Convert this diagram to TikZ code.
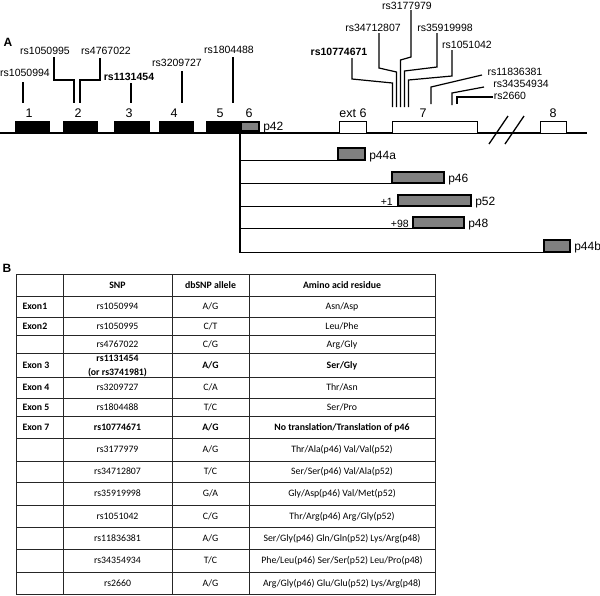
\documentclass[tikz,border=0pt]{standalone}
\usepackage{fontspec}
\setmainfont{Liberation Sans}
\newfontfamily\tabfont{Carlito}
\usetikzlibrary{positioning}

\begin{document}
\begin{tikzpicture}[x = 1pt, y = -1pt, line width = 1.3pt,
	exon/.style = {draw, fill = black, line width = 1pt, minimum height = 12pt, inner sep = 0pt},
	whitebox/.style = {exon, fill = white},
	iso/.style = {draw, fill = black!50, line width = 1.2pt, minimum height = 11pt, inner sep = 0pt},
	num/.style = {font = \fontsize{12.5}{14}\selectfont, inner sep = 0pt},
	snp/.style = {font = \fontsize{10.5}{12}\selectfont, inner sep = 0pt},
	snpb/.style = {font = \fontsize{10.5}{12}\selectfont\bfseries, inner sep = 0pt},
	pname/.style = {font = \fontsize{12}{14}\selectfont, inner sep = 0pt, anchor = base west},
	leader/.style = {line width = 1.2pt},
	panel/.style = {font = \fontsize{12}{14}\selectfont\bfseries, inner sep = 0pt},
	cell/.style = {font = \tabfont\fontsize{9.8}{12}\selectfont, inner sep = 0pt, anchor = base, yshift = -3.2pt},
	cellb/.style = {cell, font = \tabfont\fontsize{9.8}{12}\selectfont\bfseries},
	tabline/.style = {line width = 0.9pt, draw = black!85}]
	\useasboundingbox (0,0) rectangle (600,595);

	% panel A: gene
	\node[panel](A) at (8,42){A};
	\coordinate (gstart) at (0,133);
	\coordinate (gend) at (587,133);
	\draw (gstart) -- (gend);
	\draw (489,144) -- (508,116);
	\draw (505,144) -- (524,116);

	\node[exon, minimum width = 34pt](e1) at (32,127){};
	\node[exon, minimum width = 34pt](e2) at (80,127){};
	\node[exon, minimum width = 35pt](e3) at (131.5,127){};
	\node[exon, minimum width = 34pt](e4) at (176,127){};
	\node[exon, minimum width = 35pt](e5) at (223.5,127){};
	\node[iso, minimum width = 18pt, minimum height = 9pt](e6) at (250,126.5){};
	\node[whitebox, minimum width = 27pt](x6) at (352.5,127){};
	\node[whitebox, minimum width = 85pt](e7) at (434.5,127){};
	\node[whitebox, minimum width = 26pt](e8) at (553,127){};

	\node[num](n1) at (29,113.5){1};
	\node[num](n2) at (78,113.5){2};
	\node[num](n3) at (129,113.5){3};
	\node[num](n4) at (174,113.5){4};
	\node[num](n5) at (220,113.5){5};
	\node[num](n6) at (249,113.5){6};
	\node[num](nx6) at (353,113.5){ext 6};
	\node[num](n7) at (423,113.5){7};
	\node[num](n8) at (553,113.5){8};
	\node[pname](l42) at ([xshift = 3pt, yshift = 1pt]e6.south east){p42};

	% SNP labels
	\node[snp](s1) at (25,73){rs1050994};
	\node[snp](s2) at (45,51){rs1050995};
	\node[snp](s3) at (106,51){rs4767022};
	\node[snpb](s4) at (129,77){rs1131454};
	\node[snp](s5) at (177,63){rs3209727};
	\node[snp](s6) at (229,50){rs1804488};
	\node[snpb](s7) at (339,52){rs10774671};
	\node[snp](s8) at (373,28){rs34712807};
	\node[snp](s9) at (407,6){rs3177979};
	\node[snp](s10) at (445,28){rs35919998};
	\node[snp](s11) at (467,45){rs1051042};
	\node[snp](s12) at (515,72){rs11836381};
	\node[snp](s13) at (521,84){rs34354934};
	\node[snp](s14) at (510,96){rs2660};

	\coordinate (t1) at (23,82);     \coordinate (m1) at (23,103);
	\coordinate (t2) at (54,57);     \coordinate (m2) at (74,103);
	\coordinate (t3) at (100,58);    \coordinate (m3) at (80,103);
	\coordinate (t4) at (131,83);    \coordinate (m4) at (131,103);
	\coordinate (t5) at (182,71);    \coordinate (m5) at (182,103);
	\coordinate (t6) at (233,57);    \coordinate (m6) at (233,103);
	\coordinate (t7) at (352,58);    \coordinate (m7) at (392.5,107);
	\coordinate (t8) at (379,33);    \coordinate (m8) at (396.5,107);
	\coordinate (t9) at (411,10);    \coordinate (m9) at (400.5,107);
	\coordinate (t10) at (437,33);   \coordinate (m10) at (404.5,107);
	\coordinate (t11) at (452,50);   \coordinate (m11) at (408.5,107);
	\coordinate (t12) at (482,75);   \coordinate (m12) at (431,104);
	\coordinate (t13) at (484,87);   \coordinate (m13) at (452,105);
	\coordinate (t14) at (493,97);   \coordinate (m14) at (457,104);

	\draw[leader](t1) -- (m1);
	\draw[leader](t2) -- ++(0,23) -| (m2);
	\draw[leader](t3) -- ++(0,22) -| (m3);
	\draw[leader](t4) -- (m4);
	\draw[leader](t5) -- (m5);
	\draw[leader](t6) -- (m6);
	\draw[leader](t7) -- ++(0,21) -- ++(40.5,4) -- (m7);
	\draw[leader](t8) -- ++(0,35) -- ++(17.5,4) -- (m8);
	\draw[leader](t9) -- ++(0,47) -- ++(-10.5,3) -- (m9);
	\draw[leader](t10) -- ++(0,34) -- ++(-32.5,4) -- (m10);
	\draw[leader](t11) -- ++(0,26) -- ++(-43.5,4) -- (m11);
	\draw[leader](t12) -- ++(-51,12) -- (m12);
	\draw[leader](t13) -- ++(-32,6) -- (m13);
	\draw[leader](t14) -- ++(-36,0) -- (m14);

	% isoforms
	\coordinate (split) at (240,133);
	\node[iso, minimum width = 27pt, minimum height = 12pt](p44a) at (351.5,154){};
	\node[iso, minimum width = 52pt](p46) at (418,177.5){};
	\node[iso, minimum width = 73pt](p52) at (434.5,200.5){};
	\node[iso, minimum width = 51pt](p48) at (438.5,222.5){};
	\node[iso, minimum width = 26pt, minimum height = 12pt](p44b) at (557,246){};

	\draw (split) |- (p44a.south west);
	\draw (split) |- (p46.south west);
	\draw (split) |- (p52.south west);
	\draw (split) |- (p48.south west);
	\draw (split) |- (p44b.south west);

	\node[pname](l44a) at ([xshift = 3pt, yshift = 1pt]p44a.south east){p44a};
	\node[pname](l46) at ([xshift = 3pt, yshift = 1pt]p46.south east){p46};
	\node[pname](l52) at ([xshift = 3pt, yshift = 1pt]p52.south east){p52};
	\node[pname](l48) at ([xshift = 3pt, yshift = 1pt]p48.south east){p48};
	\node[pname](l44b) at ([xshift = 3pt, yshift = 2pt]p44b.south east){p44b};
	\node[pname, anchor = base east, font = \fontsize{10.5}{12}\selectfont](o52) at ([xshift = -4pt, yshift = 1pt]p52.south west){+1};
	\node[pname, anchor = base east, font = \fontsize{10.5}{12}\selectfont](o48) at ([xshift = -3pt, yshift = 1pt]p48.south west){+98};

	% panel B: table
	\node[panel](B) at (7,268){B};
	\draw[tabline] (16,274) rectangle (435,594);
	\draw[tabline] (63,274) -- (63,594);
	\draw[tabline] (172,274) -- (172,594);
	\draw[tabline] (249,274) -- (249,594);
	\foreach \y in {296,317,335,353,377,398,416,438,461,482,505,527,549,572}
		\draw[tabline] (16,\y) -- (435,\y);

	\node[cellb](hsnp) at (117.5,285){SNP};
	\node[cellb](hall) at (210.5,285){dbSNP allele};
	\node[cellb](haa) at (342,285){Amino acid residue};

	\node[cellb, anchor = base west](x1) at (22,306.5){Exon1};
	\node[cell](r1) at (117.5,306.5){rs1050994};
	\node[cell](a1) at (210.5,306.5){A/G};
	\node[cell](aa1) at (342,306.5){Asn/Asp};

	\node[cellb, anchor = base west](x2) at (22,326){Exon2};
	\node[cell](r2) at (117.5,326){rs1050995};
	\node[cell](a2) at (210.5,326){C/T};
	\node[cell](aa2) at (342,326){Leu/Phe};

	\node[cell](r3) at (117.5,344){rs4767022};
	\node[cell](a3) at (210.5,344){C/G};
	\node[cell](aa3) at (342,344){Arg/Gly};

	\node[cellb, anchor = base west](x3) at (22,365){Exon 3};
	\node[cellb](r4) at (117.5,358){rs1131454};
	\node[cellb](r4b) at (117.5,372){(or rs3741981)};
	\node[cellb](a4) at (210.5,365){A/G};
	\node[cellb](aa4) at (342,365){Ser/Gly};

	\node[cellb, anchor = base west](x4) at (22,387.5){Exon 4};
	\node[cell](r5) at (117.5,387.5){rs3209727};
	\node[cell](a5) at (210.5,387.5){C/A};
	\node[cell](aa5) at (342,387.5){Thr/Asn};

	\node[cellb, anchor = base west](x5) at (22,407){Exon 5};
	\node[cell](r6) at (117.5,407){rs1804488};
	\node[cell](a6) at (210.5,407){T/C};
	\node[cell](aa6) at (342,407){Ser/Pro};

	\node[cellb, anchor = base west](x7) at (22,427){Exon 7};
	\node[cellb](r7) at (117.5,427){rs10774671};
	\node[cellb](a7) at (210.5,427){A/G};
	\node[cellb](aa7) at (342,427){No translation/Translation of p46};

	\node[cell](r8) at (117.5,449.5){rs3177979};
	\node[cell](a8) at (210.5,449.5){A/G};
	\node[cell](aa8) at (342,449.5){Thr/Ala(p46) Val/Val(p52)};

	\node[cell](r9) at (117.5,471.5){rs34712807};
	\node[cell](a9) at (210.5,471.5){T/C};
	\node[cell](aa9) at (342,471.5){Ser/Ser(p46) Val/Ala(p52)};

	\node[cell](r10) at (117.5,493.5){rs35919998};
	\node[cell](a10) at (210.5,493.5){G/A};
	\node[cell](aa10) at (342,493.5){Gly/Asp(p46) Val/Met(p52)};

	\node[cell](r11) at (117.5,516){rs1051042};
	\node[cell](a11) at (210.5,516){C/G};
	\node[cell](aa11) at (342,516){Thr/Arg(p46) Arg/Gly(p52)};

	\node[cell](r12) at (117.5,538){rs11836381};
	\node[cell](a12) at (210.5,538){A/G};
	\node[cell](aa12) at (342,538){Ser/Gly(p46) Gln/Gln(p52) Lys/Arg(p48)};

	\node[cell](r13) at (117.5,560.5){rs34354934};
	\node[cell](a13) at (210.5,560.5){T/C};
	\node[cell](aa13) at (342,560.5){Phe/Leu(p46) Ser/Ser(p52) Leu/Pro(p48)};

	\node[cell](r14) at (117.5,583){rs2660};
	\node[cell](a14) at (210.5,583){A/G};
	\node[cell](aa14) at (342,583){Arg/Gly(p46) Glu/Glu(p52) Lys/Arg(p48)};

\end{tikzpicture}
\end{document}
